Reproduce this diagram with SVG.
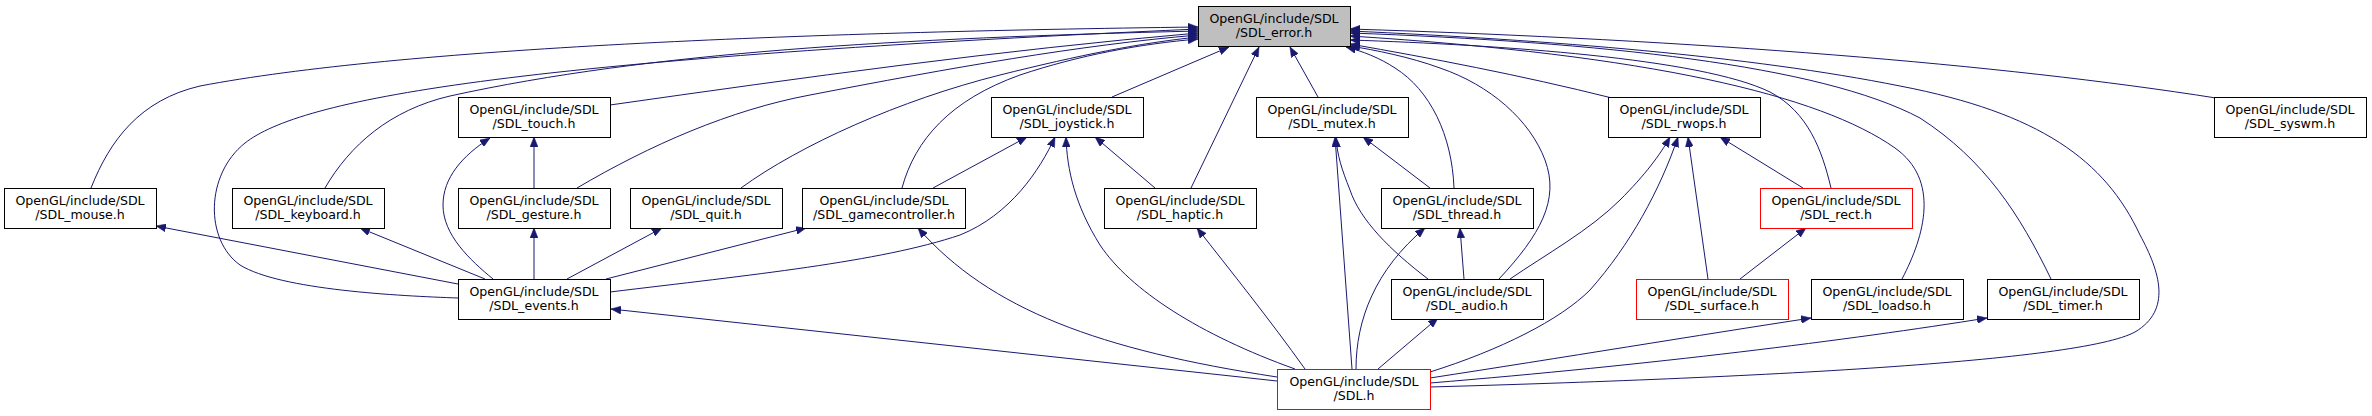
<svg xmlns="http://www.w3.org/2000/svg" width="2372" height="416" viewBox="0 0 2372 416">
<style>
.node rect{fill:#ffffff;stroke:#000000;stroke-width:1}
.node.cur rect{fill:#bfbfbf}
.node.red rect{stroke:#ff0000}
.node text{font-family:"DejaVu Sans","Liberation Sans",sans-serif;font-size:12.6px;fill:#000000;text-anchor:middle}
.edges path{fill:none;stroke:#191970;stroke-width:1;marker-end:url(#ah)}
</style>
<defs>
<marker id="ah" viewBox="0 0 10 8" refX="10" refY="4" markerWidth="10" markerHeight="8" markerUnits="userSpaceOnUse" orient="auto">
<path d="M0,0L10,4L0,8z" fill="#191970" stroke="#191970" stroke-width="0.5"/>
</marker>
</defs>
<rect width="2372" height="416" fill="#ffffff"/>
<g class="edges">
<path d="M91,188 C110,140 140,100 200,86 C400,48 800,32 1198,27"/>
<path d="M458,298 C400,296 280,290 240,265 C205,240 205,175 245,143 C300,100 500,60 1198,29"/>
<path d="M325,188 C350,145 390,110 450,96 C650,52 900,38 1198,31"/>
<path d="M610,105 C800,78 1000,50 1198,33"/>
<path d="M577,188 C650,145 730,110 810,95 C950,68 1080,45 1198,35"/>
<path d="M741,188 C800,145 900,100 1000,75 C1080,55 1140,43 1198,37"/>
<path d="M902,188 C915,140 950,100 1020,75 C1080,55 1140,44 1198,39"/>
<path d="M1112,97 L1229,47"/>
<path d="M1191,188 L1259,47"/>
<path d="M1318,97 L1290,47"/>
<path d="M1454,188 C1452,135 1430,90 1395,68 C1380,58 1362,51 1346,47"/>
<path d="M1499,279 C1540,235 1560,200 1545,160 C1530,120 1490,85 1440,68 C1410,57 1375,50 1350,46"/>
<path d="M1612,98 C1520,75 1430,58 1350,44"/>
<path d="M1831,188 C1822,150 1808,112 1770,92 C1700,58 1500,45 1350,40"/>
<path d="M1902,279 C1925,235 1940,180 1895,148 C1820,95 1650,55 1350,36"/>
<path d="M2051,279 C2020,215 1985,160 1920,118 C1820,65 1600,42 1350,33"/>
<path d="M2216,98 C2000,64 1700,40 1350,29"/>
<path d="M1430,387 C1750,378 2080,362 2135,332 C2172,310 2160,272 2140,235 C2105,160 2040,113 1900,86 C1750,56 1550,40 1350,31"/>
<path d="M493,279 C470,260 443,235 443,205 C443,178 462,156 490,138"/>
<path d="M534,188 L534,137"/>
<path d="M534,279 L534,228"/>
<path d="M458,284 L156,226"/>
<path d="M485,279 L360,228"/>
<path d="M567,279 L662,228"/>
<path d="M606,279 L806,228"/>
<path d="M610,292 C750,275 880,262 960,235 C1010,215 1040,170 1055,137"/>
<path d="M933,188 L1027,137"/>
<path d="M1155,188 L1095,137"/>
<path d="M1295,369 C1200,335 1130,290 1100,245 C1075,205 1067,170 1066,137"/>
<path d="M1277,377 C1100,350 990,310 918,228"/>
<path d="M1277,381 L611,309"/>
<path d="M1305,369 C1270,320 1230,270 1197,228"/>
<path d="M1352,369 L1335,137"/>
<path d="M1428,279 C1390,250 1360,220 1350,190 C1342,170 1337,155 1336,137"/>
<path d="M1430,188 L1363,137"/>
<path d="M1464,279 L1460,228"/>
<path d="M1356,369 C1356,320 1375,270 1425,228"/>
<path d="M1378,369 L1438,318"/>
<path d="M1510,279 C1545,255 1590,230 1620,200 C1645,175 1660,155 1670,137"/>
<path d="M1430,372 C1500,350 1560,320 1590,290 C1630,245 1660,190 1678,137"/>
<path d="M1708,279 L1688,137"/>
<path d="M1740,279 L1806,228"/>
<path d="M1803,188 L1720,137"/>
<path d="M1430,378 C1560,358 1700,335 1811,318"/>
<path d="M1430,383 C1650,365 1850,340 1987,318"/>
</g>
<g id="node_error" class="node cur"><rect x="1198.5" y="6.5" width="152" height="40"/><text x="1274" y="23">OpenGL/include/SDL</text><text x="1274" y="37">/SDL_error.h</text></g>
<g id="node_touch" class="node"><rect x="458.5" y="97.5" width="152" height="40"/><text x="534" y="114">OpenGL/include/SDL</text><text x="534" y="128">/SDL_touch.h</text></g>
<g id="node_joystick" class="node"><rect x="991.5" y="97.5" width="152" height="40"/><text x="1067" y="114">OpenGL/include/SDL</text><text x="1067" y="128">/SDL_joystick.h</text></g>
<g id="node_mutex" class="node"><rect x="1256.5" y="97.5" width="152" height="40"/><text x="1332" y="114">OpenGL/include/SDL</text><text x="1332" y="128">/SDL_mutex.h</text></g>
<g id="node_rwops" class="node"><rect x="1608.5" y="97.5" width="152" height="40"/><text x="1684" y="114">OpenGL/include/SDL</text><text x="1684" y="128">/SDL_rwops.h</text></g>
<g id="node_syswm" class="node"><rect x="2214.5" y="97.5" width="152" height="40"/><text x="2290" y="114">OpenGL/include/SDL</text><text x="2290" y="128">/SDL_syswm.h</text></g>
<g id="node_mouse" class="node"><rect x="4.5" y="188.5" width="152" height="40"/><text x="80" y="205">OpenGL/include/SDL</text><text x="80" y="219">/SDL_mouse.h</text></g>
<g id="node_keyboard" class="node"><rect x="232.5" y="188.5" width="152" height="40"/><text x="308" y="205">OpenGL/include/SDL</text><text x="308" y="219">/SDL_keyboard.h</text></g>
<g id="node_gesture" class="node"><rect x="458.5" y="188.5" width="152" height="40"/><text x="534" y="205">OpenGL/include/SDL</text><text x="534" y="219">/SDL_gesture.h</text></g>
<g id="node_quit" class="node"><rect x="630.5" y="188.5" width="152" height="40"/><text x="706" y="205">OpenGL/include/SDL</text><text x="706" y="219">/SDL_quit.h</text></g>
<g id="node_gamecontroller" class="node"><rect x="802.5" y="188.5" width="163" height="40"/><text x="884" y="205">OpenGL/include/SDL</text><text x="884" y="219">/SDL_gamecontroller.h</text></g>
<g id="node_haptic" class="node"><rect x="1104.5" y="188.5" width="152" height="40"/><text x="1180" y="205">OpenGL/include/SDL</text><text x="1180" y="219">/SDL_haptic.h</text></g>
<g id="node_thread" class="node"><rect x="1381.5" y="188.5" width="152" height="40"/><text x="1457" y="205">OpenGL/include/SDL</text><text x="1457" y="219">/SDL_thread.h</text></g>
<g id="node_rect" class="node red"><rect x="1760.5" y="188.5" width="152" height="40"/><text x="1836" y="205">OpenGL/include/SDL</text><text x="1836" y="219">/SDL_rect.h</text></g>
<g id="node_events" class="node"><rect x="458.5" y="279.5" width="152" height="40"/><text x="534" y="296">OpenGL/include/SDL</text><text x="534" y="310">/SDL_events.h</text></g>
<g id="node_audio" class="node"><rect x="1391.5" y="279.5" width="152" height="40"/><text x="1467" y="296">OpenGL/include/SDL</text><text x="1467" y="310">/SDL_audio.h</text></g>
<g id="node_surface" class="node red"><rect x="1636.5" y="279.5" width="152" height="40"/><text x="1712" y="296">OpenGL/include/SDL</text><text x="1712" y="310">/SDL_surface.h</text></g>
<g id="node_loadso" class="node"><rect x="1811.5" y="279.5" width="152" height="40"/><text x="1887" y="296">OpenGL/include/SDL</text><text x="1887" y="310">/SDL_loadso.h</text></g>
<g id="node_timer" class="node"><rect x="1987.5" y="279.5" width="152" height="40"/><text x="2063" y="296">OpenGL/include/SDL</text><text x="2063" y="310">/SDL_timer.h</text></g>
<g id="node_sdl" class="node red"><rect x="1277.5" y="369.5" width="153" height="40"/><text x="1354" y="386">OpenGL/include/SDL</text><text x="1354" y="400">/SDL.h</text></g>
</svg>
